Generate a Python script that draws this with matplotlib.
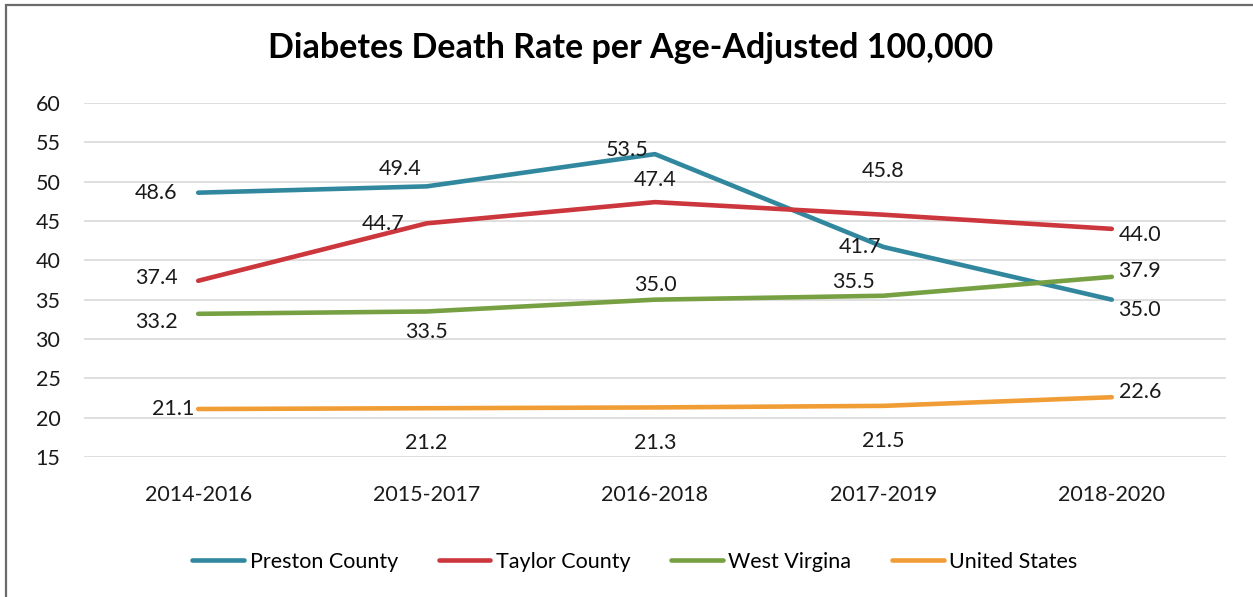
import matplotlib
matplotlib.use("Agg")
import matplotlib.pyplot as plt
from matplotlib.patches import Rectangle

categories = ["2014-2016", "2015-2017", "2016-2018", "2017-2019", "2018-2020"]
series_names = ["Preston County", "Taylor County", "West Virgina", "United States"]
preston = [48.6, 49.4, 53.5, 41.7, 35.0]
taylor = [37.4, 44.7, 47.4, 45.8, 44.0]
west_virginia = [33.2, 33.5, 35.0, 35.5, 37.9]
united_states = [21.1, 21.2, 21.3, 21.5, 22.6]
yticks = [15, 20, 25, 30, 35, 40, 45, 50, 55, 60]

colors = ["#31889E", "#CC363D", "#77A043", "#F19D36"]
# label offsets in pixels (styling)
offsets = [
    [(-42, 0), (-26, 17), (-28, 4), (-23, 0), (28, -10)],
    [(-42, 3), (-43, -1), (0, 22), (0, 44), (28, -6)],
    [(-42, -8), (0, -21), (0, 15), (-30, 14), (28, 6)],
    [(-25, 0), (0, -35), (0, -36), (0, -35), (28, 5)],
]

plt.rcParams['font.family'] = ['Lato', 'DejaVu Sans']

W, H = 1253, 597
fig = plt.figure(figsize=(W / 100, H / 100), dpi=100)
ax = fig.add_axes([84 / W, 1 - 457 / H, (1226 - 84) / W, (457 - 103) / H])

x = list(range(len(categories)))
data = [preston, taylor, west_virginia, united_states]
for name, vals, c, offs in zip(series_names, data, colors, offsets):
    ax.plot(x, vals, color=c, lw=3.3, label=name, solid_capstyle='round', zorder=3)
    for xi, v, (dx, dy) in zip(x, vals, offs):
        ax.annotate(f"{v:.1f}", (xi, v), xytext=(dx, dy), textcoords='offset pixels',
                    ha='center', va='center', fontsize=15.5, color='#1a1a1a', zorder=4)

ax.set_xlim(-0.5, 4.5)
ax.set_ylim(15, 60)
ax.set_yticks(yticks)
ax.set_xticks(x)
ax.set_xticklabels(categories)
ax.tick_params(axis='both', length=0, labelsize=15.5, colors='#1a1a1a')
ax.tick_params(axis='x', pad=20)
ax.tick_params(axis='y', pad=17)
ax.grid(axis='y', color='#D9D9D9', lw=1.2)
ax.set_axisbelow(True)
for s in ax.spines.values():
    s.set_visible(False)

fig.text(631 / W, 1 - 48 / H, "Diabetes Death Rate per Age-Adjusted 100,000",
         ha='center', va='center', fontsize=24.5, fontweight='bold', color='black')

fig.legend(loc='center', bbox_to_anchor=(635 / W, 1 - 562 / H), ncol=4, frameon=False,
           fontsize=15.5, handlelength=2.4, columnspacing=1.9, handletextpad=0.25)

# outer border (left and top visible)
fig.add_artist(Rectangle((6 / W, -0.1), 1.2, 1 - 5 / H + 0.1, transform=fig.transFigure,
                         fill=False, edgecolor='#6b6b6b', lw=1.6))

fig.savefig("out.png", dpi=100)
